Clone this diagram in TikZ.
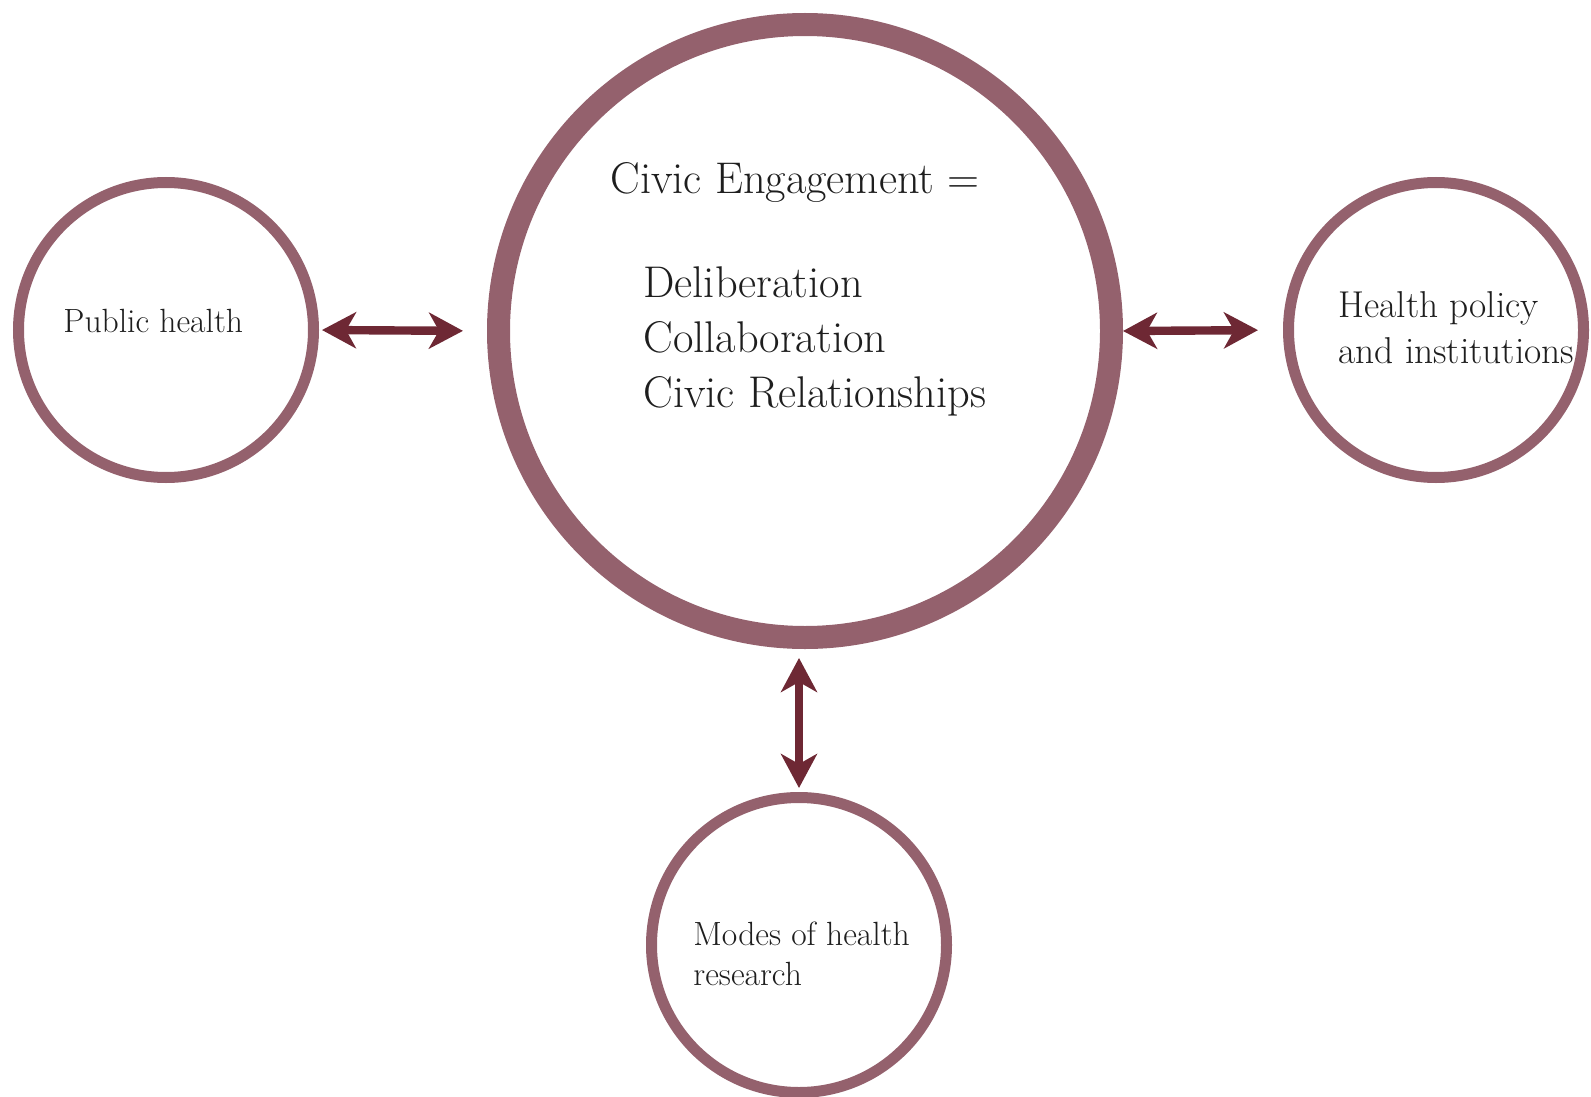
\documentclass[tikz,border=0pt]{standalone}
\usepackage{tikz}
\usetikzlibrary{arrows.meta}

\definecolor{ringcol}{RGB}{148,97,109}
\definecolor{linkcol}{RGB}{110,40,52}
\definecolor{txtcol}{RGB}{30,30,30}

\tikzset{
  ring/.style={circle, draw=ringcol, line width=5.5pt, minimum size=147.5pt, inner sep=0pt},
  bigring/.style={ring, line width=11.5pt, minimum size=306.5pt},
  link/.style={linkcol, line width=4.2pt,
    {Stealth[length=17pt,width=18pt,inset=5pt]}-{Stealth[length=17pt,width=18pt,inset=5pt]}},
  lbl/.style={anchor=base west, inner sep=0pt, text=txtcol},
  bigtxt/.style={lbl, font=\fontsize{22.2}{27}\selectfont},
  smalltxt/.style={lbl, font=\fontsize{16.8}{20}\selectfont},
  midtxt/.style={lbl, font=\fontsize{18.7}{22}\selectfont}
}

\begin{document}
\begin{tikzpicture}[x=0.5pt, y=-0.5pt]
        \useasboundingbox (0,0) rectangle (1591,1097);

        % circles
        \node[bigring] (civic) at (805, 331) {};
        \node[ring] (pub) at (166, 330) {};
        \node[ring] (policy) at (1436, 330) {};
        \node[ring] (modes) at (799, 945) {};

        % texts
        \node[bigtxt] (ce) at (610, 193) {Civic Engagement =};
        \node[bigtxt] (delib) at (643, 297) {Deliberation};
        \node[bigtxt] (collab) at (643, 352) {Collaboration};
        \node[bigtxt] (rel) at (643, 407) {Civic Relationships};

        \node[smalltxt] (pubtxt) at (63, 332) {Public health};
        \node[midtxt] (poltxt1) at (1338, 317) {Health policy};
        \node[midtxt] (poltxt2) at (1338, 363) {and institutions};
        \node[smalltxt] (modtxt1) at (693, 945) {Modes of health};
        \node[smalltxt] (modtxt2) at (693, 985) {research};

        % links
        \draw[link, shorten <=1.5pt, shorten >=12pt] (pub.east) to (civic.west);
        \draw[link, shorten >=12.5pt] (civic.east) to (policy.west);
        \draw[link, shorten <=4.5pt, shorten >=2pt] (modes.north |- civic.south) to (modes.north);
      \end{tikzpicture}
\end{document}
